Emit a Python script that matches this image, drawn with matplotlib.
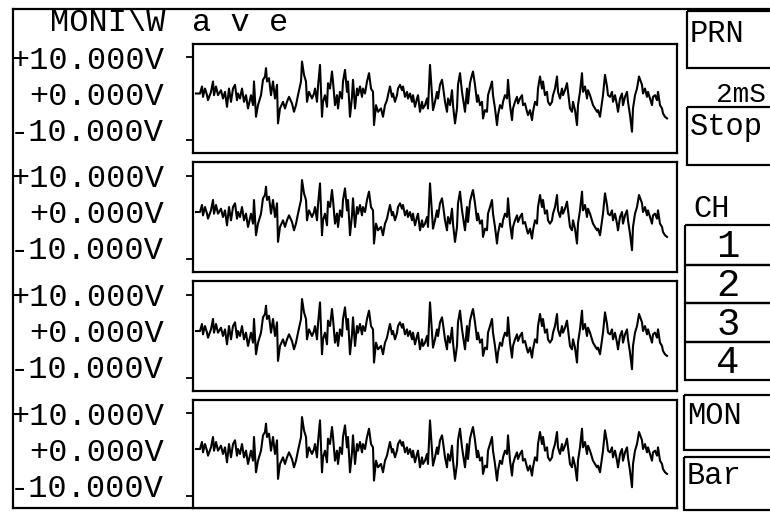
import matplotlib
matplotlib.use("Agg")
import matplotlib.pyplot as plt
from matplotlib.patches import Rectangle

plt.rcParams['font.family'] = ['Liberation Mono', 'DejaVu Sans Mono']

# waveform (sample index, volts); all four channels show the same trace
sample = [1, 5, 7, 8, 10, 12, 13, 16, 18, 19, 21, 23, 26, 28, 30, 32, 34, 36, 38, 40,
          42, 43, 45, 47, 49, 51, 53, 56, 58, 59, 61, 63, 66, 68, 70, 71, 72, 74, 76, 78,
          80, 82, 83, 85, 88, 90, 92, 94, 97, 99, 101, 103, 106, 107, 109, 111, 112, 114, 117, 119,
          120, 122, 123, 125, 127, 128, 130, 132, 133, 135, 137, 138, 140, 142, 143, 145, 147, 148, 150, 152,
          153, 155, 157, 158, 160, 162, 163, 165, 167, 168, 170, 172, 174, 176, 178, 179, 181, 183, 186, 188,
          190, 192, 193, 195, 197, 198, 200, 202, 203, 205, 207, 208, 210, 212, 213, 215, 217, 218, 220, 222,
          223, 225, 227, 228, 230, 232, 233, 235,
          237, 238, 240, 242, 243, 245, 247, 248, 250, 252, 253, 255, 257, 258, 260, 262, 263, 265, 267, 268,
          270, 272, 273, 275, 277, 278, 280, 282, 283, 285, 287, 288, 290, 292, 293, 295, 297, 298, 300, 302,
          303, 305, 307, 308, 310, 312, 313, 315, 317, 318, 320, 322, 323, 325, 327, 328, 330, 332, 333, 335,
          337, 338, 340, 342, 343, 345, 347, 348, 350, 352, 353,
          355, 357, 358, 360, 362, 363, 365, 367, 368, 370, 372, 373, 375, 377, 378, 380, 382, 383, 385, 387,
          388, 390, 392, 393, 395, 397, 398, 400, 402, 403, 405, 407, 408, 410, 412, 413, 415, 417, 418, 420,
          422, 423, 425, 427, 428, 430, 432, 433, 435, 437, 438, 440, 442, 444, 447, 448, 450, 452, 453, 455,
          457, 458, 460, 462, 463, 465, 467, 468, 470, 472]
volts = [1.2, 1.2, 2.9, 0.4, 2.4, 0.8, -0.4, 1.6, 4.1, 0.8, 2.9, 0.8, 2.0, 0.0, 1.6, -2.0, 2.4, -0.8, 2.4, 3.3,
         -0.4, 1.2, 0.0, 2.4, -0.8, 0.8, -2.4, 0.8, -1.6, 4.1, -4.4, -1.6, 0.8, 4.5, 5.3, 7.3, 4.1, 4.9, 0.8, 4.1,
         0.0, 3.3, -6.0, -2.4, -0.8, -2.4, -0.8, 0.4, -1.2, -3.2, -1.6, 0.8, 4.1, 8.9, 5.7, 4.1, -0.8, 1.6, 0.0, 1.2,
         2.4, -0.8, 2.9, 8.1, -4.4, -0.8, 0.8, -2.0, 3.7, 2.4, 6.5, 4.1, -1.6, 0.8, -2.4, 1.6, 0.0, 4.1, 6.9, 1.6,
         4.1, -4.4, 0.4, 4.5, -2.4, 2.4, 0.8, 2.9, 0.4, 2.4, 1.2, 4.1, 6.1, 2.4, 1.6, -6.4, -1.6, -3.2, -2.4, -4.4,
         -1.6, -0.4, 0.8, 2.9, 0.4, 1.2, -0.8, 0.8, 2.4, 3.3, 2.0, 2.9, 0.4, 1.6, 0.0, 1.2, -0.8, 0.8, -2.0, 0.0,
         0.8, -3.2, -0.8, -2.4, -1.6, 0.0, -2.4, 8.1,
         0.8, -2.8, -0.8, 1.6, 0.0, 3.3, 4.5, 2.9, -0.8, -3.2, 0.0, -1.6, 2.0, -1.6, -6.0, -2.4, 3.3, 6.1, 1.6, 0.0,
         -3.2, 2.4, -1.2, 3.7, 5.7, 6.5, 3.3, -0.8, 0.8, -1.6, -0.8, -4.8, -2.8, -3.2, 0.8, 2.4, 4.1, 0.8, -2.4, -6.4,
         -4.0, -1.6, -2.4, -0.8, 0.8, 0.0, 4.5, -1.6, -5.2, -2.4, -0.8, 0.4, -1.2, 0.0, 0.8, -1.6, -1.2, -3.2, -4.0, -2.8,
         -5.2, -3.2, -0.8, -1.6, 2.4, 5.3, 2.4, 4.1, 0.8, 1.6, -0.8,
         -1.6, -0.8, 0.8, 2.4, 5.3, 1.6, 0.0, 2.4, 0.8, 2.0, 3.7, 1.6, -2.4, -3.2, -0.8, -2.8, -6.4, -1.6, 1.6, 6.1,
         1.6, 2.9, 0.0, 2.0, 0.8, -0.8, -1.6, -2.4, -3.2, -2.8, -4.4, -0.8, 0.8, 5.7, 2.9, 0.8, 0.4, 1.6, -0.8, 0.8,
         -1.6, -3.2, 0.0, 1.2, -1.6, 0.4, 1.6, -0.8, -4.0, -8.0, -2.4, 0.8, 2.4, 5.3, 3.3, 1.2, 2.4, 0.4, 1.6, 0.0,
         -1.6, 0.4, 0.8, -0.4, 1.6, -1.6, -2.4, -3.6, -4.4, -4.8]

channels = ["1", "2", "3", "4"]
range_labels = ["+10.000V", "+0.000V", "-10.000V"]
side_labels = ["PRN", "2mS", "Stop", "CH", "MON", "Bar"]

W, H = 770, 513
fig = plt.figure(figsize=(W / 100, H / 100), dpi=100)
fig.patch.set_facecolor("white")

# background layer in pixel units for the screen frame, buttons and text
bg = fig.add_axes([0, 0, 1, 1])
bg.set_xlim(0, W)
bg.set_ylim(H, 0)
bg.axis("off")

lw = 1.6
bg.plot([13, 13], [9, 508], color="k", lw=lw)
bg.plot([13, W], [9, 9], color="k", lw=lw)
bg.plot([13, 677], [508, 508], color="k", lw=lw)

bg.text(50, 31, "MONI\\W", fontsize=23, va="baseline")
bg.text(192, 31, "a v e", fontsize=23, va="baseline")

# right-hand buttons
def box(x0, y0, x1, y1):
    bg.add_patch(Rectangle((x0, y0), x1 - x0, y1 - y0, fill=False, ec="k", lw=lw))

box(687, 11, 790, 68)
box(687, 107, 790, 165)
for y0, y1 in [(225, 265), (265, 303), (303, 342), (342, 380)]:
    box(685, y0, 790, y1)
box(684, 395, 790, 450)
box(684, 457, 790, 510)

fs = 22
bg.text(690, 42, side_labels[0], fontsize=fs, va="baseline")
bg.text(716, 102, side_labels[1], fontsize=20, va="baseline")
bg.text(690, 135, side_labels[2], fontsize=fs, va="baseline")
bg.text(693, 217, side_labels[3], fontsize=fs, va="baseline")
bg.text(687, 424, side_labels[4], fontsize=fs, va="baseline")
bg.text(687, 484, side_labels[5], fontsize=fs, va="baseline")
for ch, yc in zip(channels, [247, 286, 325, 363]):
    bg.text(728, yc, ch, fontsize=28, ha="center", va="center")

# the four channel panels
tops = [44, 162, 281, 400]
heights = [109, 110, 110, 108]
left, width = 193, 484
for ch, top, h in zip(channels, tops, heights):
    ax = fig.add_axes([left / W, 1 - (top + h) / H, width / W, h / H])
    half = (h / 2) / 4.15
    ax.plot(sample, volts, color="k", lw=1.5)
    ax.set_xlim(-2, 482)
    ax.set_ylim(-half, half)
    ax.set_xticks([])
    ax.set_yticks([10, -10])
    ax.set_yticklabels([])
    ax.tick_params(axis="y", direction="out", length=5, width=1.3)
    for s in ax.spines.values():
        s.set_linewidth(lw)
    for lab, off in zip(range_labels, [14, 50, 86]):
        bg.text(164, top + off + 11, lab, fontsize=23, ha="right", va="baseline")

fig.savefig("out.png", dpi=100, facecolor="white")
